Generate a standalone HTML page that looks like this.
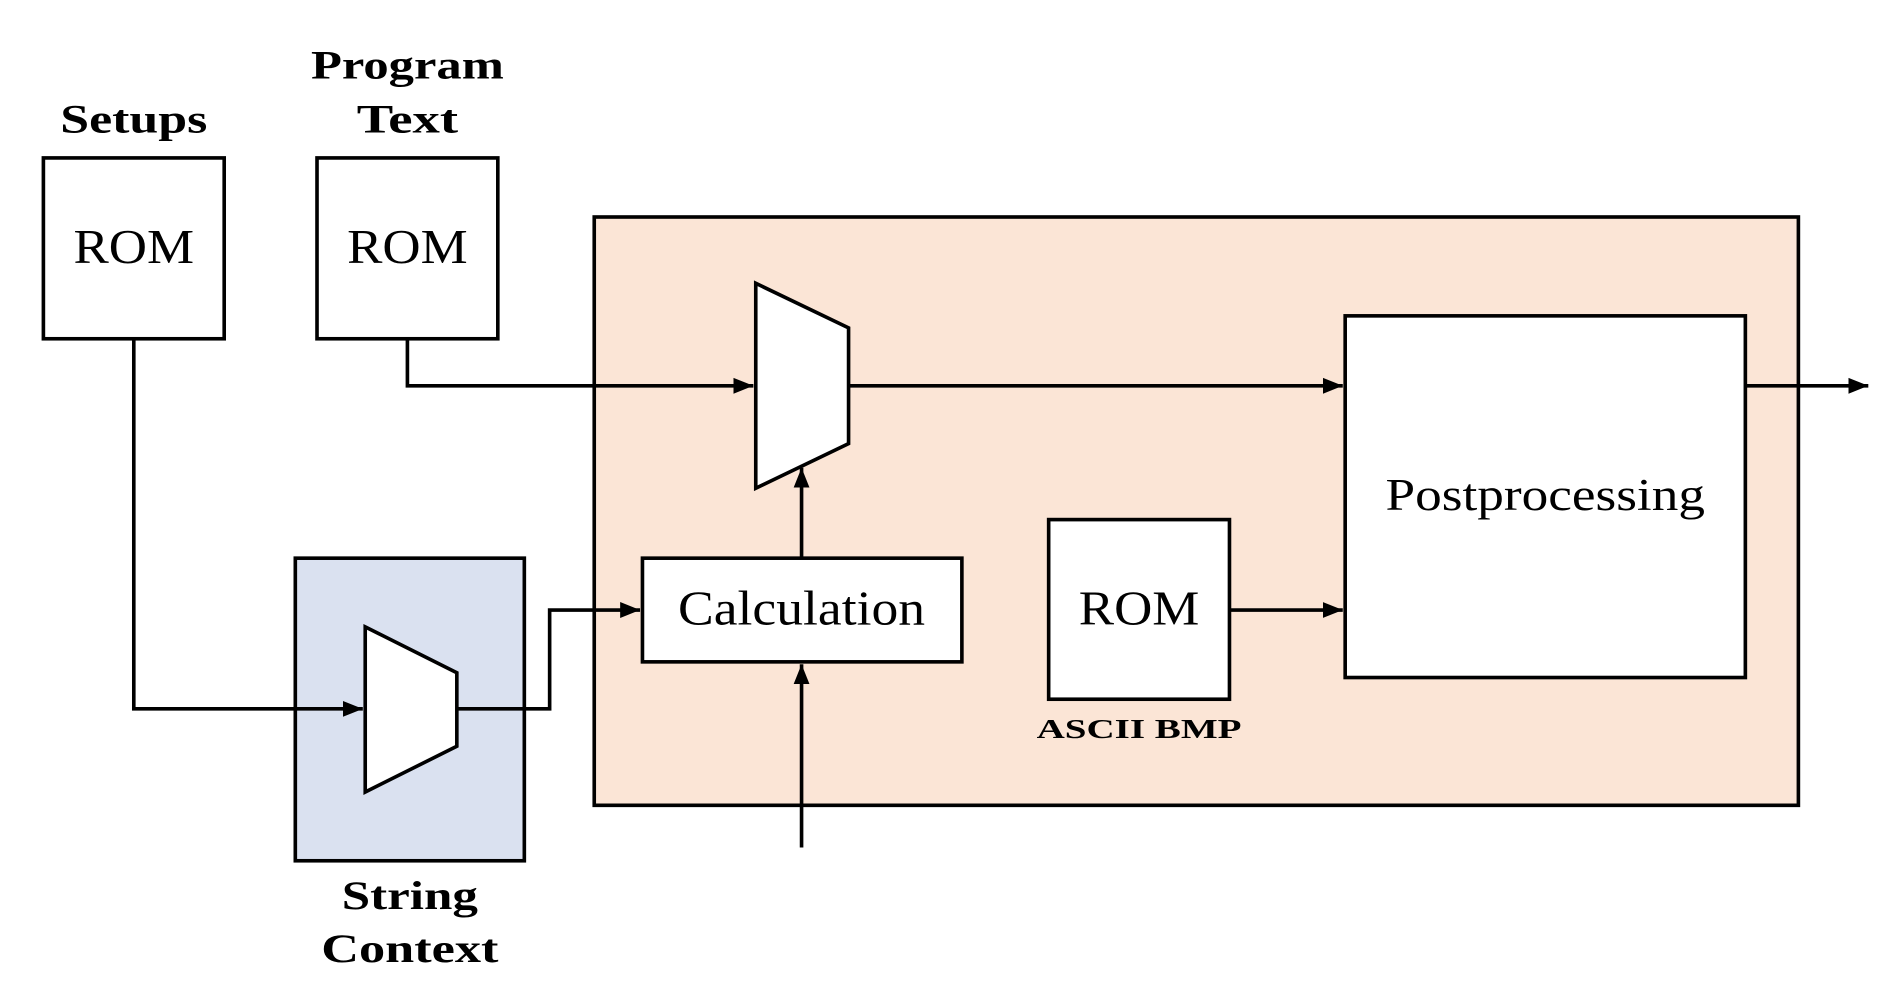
<!DOCTYPE html>
<html><head><meta charset="utf-8"><style>
html,body{margin:0;padding:0;background:#fff;width:1890px;height:997px;overflow:hidden}
svg{display:block}
text{font-family:"Liberation Serif",serif;fill:#000}
</style></head><body>
<svg width="1890" height="997" viewBox="0 0 1568 827" preserveAspectRatio="none" xmlns="http://www.w3.org/2000/svg">
<defs>
<marker id="a" viewBox="0 0 10 10" refX="10" refY="5" markerWidth="5.5" markerHeight="5.5" orient="auto" markerUnits="strokeWidth">
<path d="M0,1 L10,5 L0,9 z" fill="#000"/></marker>
</defs>
<g stroke="#000" stroke-width="3" fill="none">
<rect x="493" y="180" width="999" height="488" fill="#fbe5d6"/>
<rect x="245" y="463" width="190" height="251" fill="#dae1f0"/>
<rect x="36" y="131" width="150" height="150" fill="#fff"/>
<rect x="263" y="131" width="150" height="150" fill="#fff"/>
<rect x="1116" y="262" width="332" height="300" fill="#fff"/>
<rect x="533" y="463" width="265" height="86" fill="#fff"/>
<rect x="870" y="431" width="150" height="149" fill="#fff"/>
<polygon points="627,235 704,272 704,368 627,405" fill="#fff"/>
<polygon points="303,520 379,558 379,619 303,657" fill="#fff"/>
<polyline points="111,281 111,588 301,588" marker-end="url(#a)"/>
<polyline points="338,281 338,320 625,320" marker-end="url(#a)"/>
<polyline points="704,320 1114,320" marker-end="url(#a)"/>
<polyline points="1448,320 1550,320" marker-end="url(#a)"/>
<polyline points="379,588 456,588 456,506 531,506" marker-end="url(#a)"/>
<polyline points="665,463 665,388" marker-end="url(#a)"/>
<polyline points="665,703 665,551" marker-end="url(#a)"/>
<polyline points="1020,506 1114,506" marker-end="url(#a)"/>
</g>
<g text-anchor="middle">
<text x="111" y="110" font-size="33" font-weight="bold" textLength="122" lengthAdjust="spacingAndGlyphs">Setups</text>
<text x="338" y="65" font-size="33" font-weight="bold" textLength="160" lengthAdjust="spacingAndGlyphs">Program</text>
<text x="338" y="110" font-size="33" font-weight="bold" textLength="84" lengthAdjust="spacingAndGlyphs">Text</text>
<text x="111" y="218" font-size="40" textLength="100" lengthAdjust="spacingAndGlyphs">ROM</text>
<text x="338" y="218" font-size="40" textLength="100" lengthAdjust="spacingAndGlyphs">ROM</text>
<text x="945" y="518" font-size="40" textLength="100" lengthAdjust="spacingAndGlyphs">ROM</text>
<text x="665" y="518" font-size="40" textLength="205" lengthAdjust="spacingAndGlyphs">Calculation</text>
<text x="1282" y="423" font-size="38" textLength="265" lengthAdjust="spacingAndGlyphs">Postprocessing</text>
<text x="945" y="612" font-size="23" font-weight="bold" textLength="170" lengthAdjust="spacingAndGlyphs">ASCII BMP</text>
<text x="340" y="754" font-size="33" font-weight="bold" textLength="113" lengthAdjust="spacingAndGlyphs">String</text>
<text x="340" y="798" font-size="33" font-weight="bold" textLength="147" lengthAdjust="spacingAndGlyphs">Context</text>
</g>
</svg>
</body></html>
